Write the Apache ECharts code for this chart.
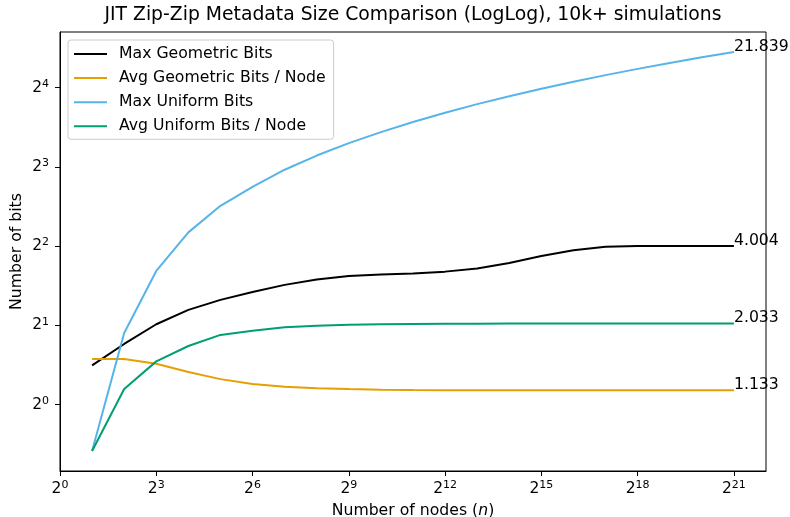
<!DOCTYPE html>
<html>
<head>
<meta charset="utf-8">
<script src="https://cdn.jsdelivr.net/npm/echarts@6/dist/echarts.min.js"></script>
<style>
html,body{margin:0;padding:0;background:#fff;}
#chart{width:790px;height:517px;}
</style>
</head>
<body>
<div id="chart"></div>
<script>
// Number of nodes n (x values)
const nodes = [2, 4, 8, 16, 32, 64, 128, 256, 512, 1024, 2048, 4096, 8192, 16384, 32768, 65536, 131072, 262144, 524288, 1048576, 2097152];
// Series values (bits)
const maxGeometric = [1.41, 1.70, 2.02, 2.29, 2.50, 2.68, 2.85, 2.99, 3.08, 3.12, 3.15, 3.20, 3.29, 3.45, 3.67, 3.86, 3.98, 4.00, 4.003, 4.004, 4.004];
const avgGeometric = [1.49, 1.49, 1.43, 1.33, 1.25, 1.198, 1.170, 1.154, 1.146, 1.140, 1.137, 1.135, 1.134, 1.134, 1.133, 1.133, 1.133, 1.133, 1.133, 1.133, 1.133];
const maxUniform = [0.667, 1.87, 3.22, 4.51, 5.69, 6.72, 7.80, 8.83, 9.84, 10.84, 11.84, 12.84, 13.84, 14.84, 15.84, 16.84, 17.84, 18.84, 19.84, 20.84, 21.839];
const avgUniform = [0.667, 1.147, 1.46, 1.67, 1.84, 1.91, 1.966, 1.995, 2.010, 2.018, 2.024, 2.028, 2.030, 2.031, 2.032, 2.032, 2.033, 2.033, 2.033, 2.033, 2.033];
// Tick values
const xTicks = [1, 8, 64, 512, 4096, 32768, 262144, 2097152];
const yTicks = [1, 2, 4, 8, 16];
const seriesNames = ['Max Geometric Bits', 'Avg Geometric Bits / Node', 'Max Uniform Bits', 'Avg Uniform Bits / Node'];
const seriesColors = ['#000000', '#E69F00', '#56B4E9', '#009E73'];

const FONT = 'DejaVu Sans';
const FS = 15.7;
const chart = echarts.init(document.getElementById('chart'), null, {renderer: 'canvas'});

function pow2Label(v) {
  const e = Math.round(Math.log2(v));
  return '{b|2}{s|' + e + '}';
}
const richTick = {
  b: {fontSize: 15.5, lineHeight: 18, color: '#000', fontFamily: FONT},
  s: {fontSize: 11, lineHeight: 11, verticalAlign: 'top', color: '#000', fontFamily: FONT}
};

function makeSeries(name, values, color) {
  return {
    name: name,
    type: 'line',
    data: nodes.map((n, i) => [n, values[i]]),
    showSymbol: false,
    symbol: 'none',
    smooth: false,
    lineStyle: {color: color, width: 2},
    itemStyle: {color: color},
    endLabel: {
      show: true,
      formatter: p => p.value[1].toFixed(3),
      color: '#000',
      fontSize: FS,
      fontFamily: FONT,
      distance: 0,
      offset: [0, -5.5]
    },
    emphasis: {disabled: true}
  };
}

const option = {
  animation: false,
  backgroundColor: '#ffffff',
  textStyle: {fontFamily: FONT},
  title: {
    text: 'JIT Zip-Zip Metadata Size Comparison (LogLog), 10k+ simulations',
    left: 413,
    top: 6,
    textAlign: 'center',
    padding: 0,
    textStyle: {fontSize: 18.8, fontWeight: 'normal', color: '#000', fontFamily: FONT}
  },
  grid: {
    left: 60, right: 24, top: 32, bottom: 46,
    containLabel: false,
    outerBoundsMode: 'none',
    show: true, borderColor: '#000', borderWidth: 1, backgroundColor: 'transparent'
  },
  legend: {
    orient: 'vertical',
    left: 68,
    top: 40,
    padding: [6, 8, 5, 5],
    itemWidth: 33,
    itemHeight: 14,
    itemGap: 8.1,
    backgroundColor: 'rgba(255,255,255,0.8)',
    borderColor: '#cccccc',
    borderWidth: 1,
    borderRadius: 3,
    data: seriesNames,
    itemStyle: {opacity: 0},
    lineStyle: {width: 2},
    textStyle: {fontSize: FS, lineHeight: 14, color: '#000', fontFamily: FONT, padding: [0, 0, 0, 7]}
  },
  xAxis: {
    type: 'log',
    logBase: 2,
    min: 1,
    max: Math.pow(2, 22),
    name: 'Number of nodes ({i|n})',
    nameLocation: 'middle',
    nameGap: 32,
    nameMoveOverlap: false,
    nameTextStyle: {
      fontSize: FS, color: '#000', fontFamily: FONT,
      rich: {i: {fontSize: FS, fontStyle: 'italic', color: '#000', fontFamily: FONT}}
    },
    axisLine: {show: true, lineStyle: {color: '#000', width: 1}},
    axisTick: {show: true, length: 5, lineStyle: {color: '#000', width: 1}, customValues: xTicks},
    axisLabel: {show: true, margin: 9, formatter: pow2Label, rich: richTick, customValues: xTicks},
    splitLine: {show: false},
    minorTick: {show: false}
  },
  yAxis: {
    type: 'log',
    logBase: 2,
    min: Math.pow(2, -0.837),
    max: Math.pow(2, 4.701),
    name: 'Number of bits',
    nameLocation: 'middle',
    nameGap: 35,
    nameMoveOverlap: false,
    nameRotate: 90,
    nameTextStyle: {fontSize: FS, color: '#000', fontFamily: FONT},
    axisLine: {show: true, lineStyle: {color: '#000', width: 1}},
    axisTick: {show: true, length: 5, lineStyle: {color: '#000', width: 1}, customValues: yTicks},
    axisLabel: {show: true, margin: 11, formatter: pow2Label, rich: richTick, customValues: yTicks},
    splitLine: {show: false},
    minorTick: {show: false}
  },
  series: seriesNames.map((nm, i) => makeSeries(nm, [maxGeometric, avgGeometric, maxUniform, avgUniform][i], seriesColors[i]))
};
chart.setOption(option);
</script>
</body>
</html>
